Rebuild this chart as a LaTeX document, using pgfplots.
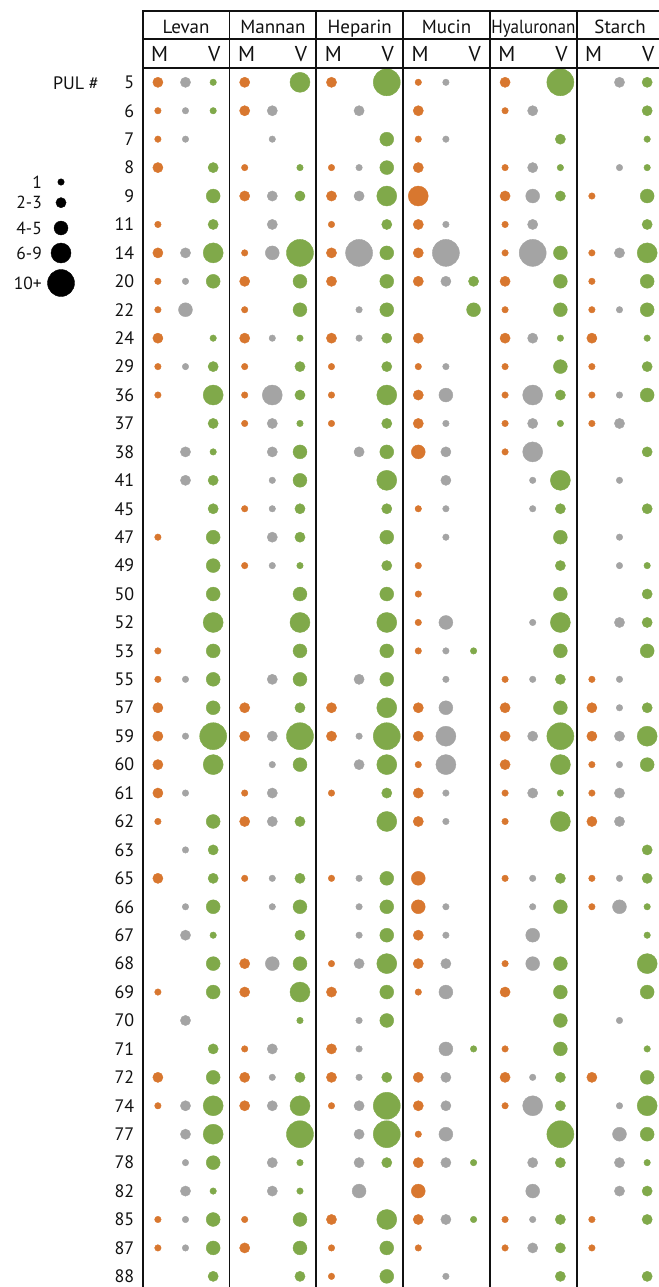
\documentclass[border=0pt]{standalone}
\usepackage{fontspec}
\setmainfont{PT Sans}
\usepackage{graphicx}
\usepackage{pgfplots}
\usepackage{pgfplotstable}
\pgfplotsset{compat=1.18}

\definecolor{cM}{HTML}{D8772F}
\definecolor{cG}{HTML}{A4A4A4}
\definecolor{cV}{HTML}{80A94A}
\definecolor{ink}{HTML}{111111}

% Size class per PUL (rows 5 ... 88): 0 = none, 1 = 1, 2 = 2-3, 3 = 4-5, 4 = 6-9, 5 = 10+
% columns: M, shared (G), V
\pgfplotstableread{
pul M G V
5  2 2 1
6  1 1 1
7  1 1 0
8  2 0 2
9  0 0 3
11 1 0 2
14 2 2 4
20 1 1 3
22 1 3 0
24 2 0 1
29 1 1 2
36 1 0 4
37 0 0 2
38 0 2 1
41 0 2 2
45 0 0 2
47 1 0 3
49 0 0 3
50 0 0 3
52 0 0 4
53 1 0 3
55 1 1 3
57 2 0 3
59 2 1 5
60 2 0 4
61 2 1 0
62 1 0 3
63 0 1 2
65 2 0 2
66 0 1 3
67 0 2 1
68 0 0 3
69 1 0 3
70 0 2 0
71 0 0 2
72 2 0 3
74 1 2 4
77 0 2 4
78 0 1 3
82 0 2 1
85 1 1 3
87 1 1 3
88 0 0 2
}\levan

\pgfplotstableread{
pul M G V
5  2 0 4
6  2 2 0
7  0 1 0
8  1 0 1
9  2 2 2
11 0 2 0
14 1 3 5
20 2 0 3
22 1 0 3
24 2 1 1
29 1 0 2
36 1 4 2
37 1 2 1
38 0 2 3
41 0 1 3
45 1 1 2
47 0 2 2
49 1 1 1
50 0 0 3
52 0 0 4
53 0 0 3
55 0 2 3
57 2 0 2
59 2 2 5
60 0 1 3
61 1 2 0
62 2 2 2
63 0 0 0
65 1 1 2
66 0 1 3
67 0 0 2
68 2 3 3
69 2 0 4
70 0 0 1
71 1 2 0
72 2 1 2
74 2 2 4
77 0 0 5
78 0 2 1
82 0 2 1
85 1 0 3
87 2 0 3
88 0 0 2
}\mannan

\pgfplotstableread{
pul M G V
5  2 0 5
6  0 2 0
7  0 0 3
8  1 1 3
9  2 2 4
11 1 0 2
14 2 5 3
20 2 0 3
22 0 1 3
24 2 1 2
29 1 0 2
36 1 0 4
37 1 0 2
38 0 2 3
41 0 0 4
45 0 0 2
47 0 0 3
49 0 0 2
50 0 0 3
52 0 0 4
53 0 0 3
55 0 2 3
57 2 0 4
59 2 1 5
60 0 2 4
61 1 0 2
62 0 0 4
63 0 0 0
65 1 1 3
66 0 1 3
67 0 1 3
68 1 2 4
69 2 0 3
70 0 1 3
71 2 1 0
72 2 1 2
74 1 2 5
77 0 2 5
78 0 2 2
82 0 3 0
85 2 0 4
87 1 0 3
88 1 0 3
}\heparin

\pgfplotstableread{
pul M G V
5  1 1 0
6  2 0 0
7  1 1 0
8  2 0 0
9  4 0 0
11 2 1 0
14 2 5 0
20 2 2 2
22 0 0 3
24 2 0 0
29 1 1 0
36 2 3 0
37 2 1 0
38 3 2 0
41 0 2 0
45 1 1 0
47 0 1 0
49 1 0 0
50 1 0 0
52 1 3 0
53 1 1 1
55 0 1 0
57 2 3 0
59 2 4 0
60 1 4 0
61 2 1 0
62 2 1 0
63 0 0 0
65 3 0 0
66 3 1 0
67 2 1 0
68 2 2 0
69 1 3 0
70 0 0 0
71 0 3 1
72 2 2 0
74 2 2 0
77 1 3 0
78 2 2 1
82 3 0 0
85 2 2 1
87 1 0 0
88 0 1 0
}\mucin

\pgfplotstableread{
pul M G V
5  2 0 5
6  1 2 0
7  0 0 2
8  1 2 1
9  2 3 2
11 1 2 0
14 1 5 3
20 2 0 3
22 1 0 3
24 2 2 1
29 1 0 3
36 1 4 2
37 1 2 1
38 1 4 0
41 0 1 4
45 0 1 2
47 0 0 3
49 0 0 2
50 0 0 3
52 0 1 4
53 0 0 3
55 1 1 2
57 2 0 3
59 2 2 5
60 2 0 4
61 1 2 1
62 1 0 4
63 0 0 0
65 1 1 2
66 0 1 3
67 0 3 0
68 1 3 3
69 2 0 3
70 0 0 3
71 1 0 3
72 2 1 2
74 1 4 2
77 0 0 5
78 0 2 2
82 0 3 0
85 1 1 2
87 1 2 2
88 0 0 2
}\hyaluronan

\pgfplotstableread{
pul M G V
5  0 2 2
6  0 0 2
7  0 0 1
8  0 1 1
9  1 0 3
11 0 0 2
14 1 2 4
20 1 0 3
22 1 1 3
24 2 0 1
29 1 0 2
36 1 1 3
37 1 2 0
38 0 0 2
41 0 1 0
45 0 0 2
47 0 1 0
49 0 1 1
50 0 0 2
52 0 2 2
53 0 0 3
55 1 1 0
57 2 1 2
59 2 2 4
60 1 1 3
61 1 2 0
62 2 2 0
63 0 0 2
65 1 1 2
66 1 3 1
67 0 0 1
68 0 0 4
69 0 0 3
70 0 1 0
71 0 0 1
72 2 0 3
74 0 1 4
77 0 3 3
78 0 2 1
82 0 2 2
85 1 0 2
87 1 0 0
88 0 0 2
}\starch

% one bubble per present entry; radius grows with the size class
\pgfplotsset{
  dot/.style 2 args={
    scatter, only marks, mark=*,
    scatter/use mapped color={draw=#1, fill=#1},
    restrict expr to domain={\thisrow{#2}}{0.5:9},
    visualization depends on={(\thisrow{#2}<=3)*(1.4+1.85*\thisrow{#2})+(\thisrow{#2}>3)*(3.5*\thisrow{#2}-4) \as \dotr},
    scatter/@pre marker code/.append style={/tikz/mark size=\dotr},
  },
}

\newcommand\substrate[2]{%
  \addplot[dot={cM}{M}] table[x expr=#1+0.175, y expr=\coordindex] {#2};
  \addplot[dot={cG}{G}] table[x expr=#1+0.493, y expr=\coordindex] {#2};
  \addplot[dot={cV}{V}] table[x expr=#1+0.812, y expr=\coordindex] {#2};
}

\begin{document}
\begin{tikzpicture}
\begin{axis}[
  name=main, at={(0,0)}, anchor=south west,
  scale only axis, width=658pt, height=1287pt,
  xmin=-1.644, xmax=5.937,
  ymin=-2.895, ymax=42.375, y dir=reverse,
  hide axis, clip=false,
]
\substrate{0}{\levan}
\substrate{1}{\mannan}
\substrate{2}{\heparin}
\substrate{3}{\mucin}
\substrate{4}{\hyaluronan}
\substrate{5}{\starch}
% size key
\addplot[dot={black}{lv}] table[x=x, y=y] {
x      y     lv
-0.941 3.507 1
-0.941 4.234 2
-0.941 5.125 3
-0.941 6.005 4
-0.941 7.060 5
};
\end{axis}

\begin{scope}[shift={(main.north west)}, x=1pt, y=-1pt, ink]
  % header frame and column rules
  \draw[line width=1.7pt] (142.7,11) -- (662,11);
  \draw[line width=1.7pt] (142.7,39.3) -- (662,39.3);
  \draw[line width=1.7pt] (142.7,67.7) -- (662,67.7);
  \foreach \xx in {142.7,229.5,316.3,403.1,489.9,576.7}
    \draw[line width=1.7pt] (\xx,10.2) -- (\xx,1292);
  % substrate names
  \begin{scope}[every node/.style={anchor=base, inner sep=0pt, font=\fontsize{19}{19}\selectfont}]
    \node at (186.1,33.4) {Levan};
    \node at (272.9,33.4) {Mannan};
    \node at (359.7,33.4) {Heparin};
    \node at (446.5,33.4) {Mucin};
    \node at (533.3,33.4) {\resizebox{84pt}{\height}{Hyaluronan}};
    \node at (620.1,33.4) {Starch};
  \end{scope}
  % M / V sub-headers
  \foreach \gx in {142.7,229.5,316.3,403.1,489.9,576.7} {
    \node[anchor=base west, inner sep=0pt, font=\fontsize{21.5}{21.5}\selectfont] at (\gx+8.3,61.5) {M};
    \node[anchor=base east, inner sep=0pt, font=\fontsize{21.5}{21.5}\selectfont] at (\gx+77.8,61.5) {V};
  }
  % row labels
  \node[anchor=east, inner sep=0pt, font=\fontsize{18}{18}\selectfont] at (99,83.3) {PUL \#};
  \foreach \lab [count=\i from 0] in {5,6,7,8,9,11,14,20,22,24,29,36,37,38,41,45,47,49,50,52,53,55,57,59,60,61,62,63,65,66,67,68,69,70,71,72,74,77,78,82,85,87,88}
    \node[anchor=east, inner sep=0pt, font=\fontsize{18}{18}\selectfont] at (134.5,82.3+28.43*\i) {\lab};
  % size key labels
  \foreach \lab/\yy in {1/182, 2-3/202.7, 4-5/228, 6-9/253, 10+/283}
    \node[anchor=east, inner sep=0pt, font=\fontsize{17.5}{17.5}\selectfont] at (42,\yy) {\lab};
\end{scope}

\pgfresetboundingbox
\useasboundingbox (main.south west) rectangle (main.north east);
\end{tikzpicture}
\end{document}
